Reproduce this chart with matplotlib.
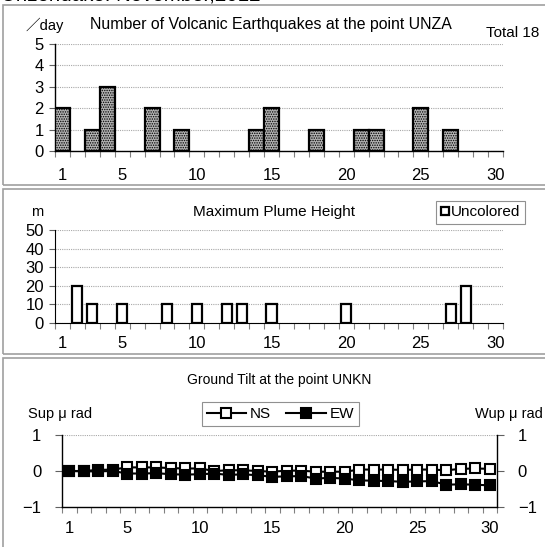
import numpy as np
import matplotlib
matplotlib.use("Agg")
import matplotlib.pyplot as plt
from matplotlib.patches import Rectangle
from matplotlib.lines import Line2D

# ---------------- data ----------------
days = list(range(1, 31))
quake_counts = [2, 0, 1, 3, 0, 0, 2, 0, 1, 0, 0, 0, 0, 1, 2, 0, 0, 1, 0, 0,
                1, 1, 0, 0, 2, 0, 1, 0, 0, 0]
plume_heights = [0, 20, 10, 0, 10, 0, 0, 10, 0, 10, 0, 10, 10, 0, 10, 0, 0, 0, 0, 10,
                 0, 0, 0, 0, 0, 0, 10, 20, 0, 0]
tilt_ns = [0.00, 0.00, 0.03, 0.04, 0.10, 0.10, 0.10, 0.08, 0.07, 0.07,
           0.00, 0.02, 0.02, 0.00, -0.02, 0.01, 0.01, -0.02, -0.02, -0.02,
           0.04, 0.04, 0.04, 0.03, 0.04, 0.04, 0.02, 0.06, 0.07, 0.06]
tilt_ew = [0.00, -0.01, -0.01, 0.00, -0.07, -0.07, -0.06, -0.09, -0.10, -0.09,
           -0.07, -0.11, -0.09, -0.12, -0.16, -0.15, -0.14, -0.21, -0.19, -0.21,
           -0.26, -0.27, -0.28, -0.30, -0.29, -0.28, -0.38, -0.37, -0.38, -0.40]
xtick_labels = [1, 5, 10, 15, 20, 25, 30]
quake_yticks = [0, 1, 2, 3, 4, 5]
plume_yticks = [0, 10, 20, 30, 40, 50]
tilt_yticks = [-1, 0, 1]
total_quakes = 18

# ---------------- style ----------------
W, H = 545, 547
plt.rcParams['font.family'] = ['Liberation Sans', 'DejaVu Sans']
plt.rcParams['hatch.linewidth'] = 0.7
NARROW = ['Liberation Sans Narrow', 'Liberation Sans', 'DejaVu Sans']
GRID = dict(color='#a8a8a8', linestyle=(0, (1, 1)), linewidth=0.8)

fig = plt.figure(figsize=(W / 100, H / 100), dpi=100)


def fx(px):
    return px / W


def fy(py):
    return 1 - py / H


def add_axes(x0, x1, ytop, ybot):
    return fig.add_axes([fx(x0), fy(ybot), fx(x1) - fx(x0), fy(ytop) - fy(ybot)])


# panel frames
for (y0, y1) in [(5, 185), (189, 354), (358, 560)]:
    fig.add_artist(Rectangle((fx(3), fy(y1)), fx(600), fy(y0) - fy(y1),
                             transform=fig.transFigure, fill=False,
                             edgecolor='#a0a0a0', linewidth=1.2))

fig.text(fx(1), fy(0.3), 'Unzendake: November,2012', fontsize=14.8,
         va='baseline', ha='left')


def style_category_xaxis(ax, pad):
    ax.set_xlim(0.5, 30.5)
    ax.set_xticks(xtick_labels)
    ax.set_xticklabels([str(v) for v in xtick_labels])
    ax.set_xticks(np.arange(0.5, 31, 1), minor=True)
    ax.tick_params(axis='x', which='major', length=0, pad=pad, labelsize=12,
                   labelfontfamily=NARROW)
    ax.tick_params(axis='x', which='minor', length=4, width=0.8,
                   color='#808080', direction='out')


days_arr = np.array(days)

# ---------------- panel 1: earthquakes ----------------
ax1 = add_axes(55, 503, 44, 151)
q = np.array(quake_counts)
ax1.bar(days_arr[q > 0], q[q > 0], width=1.0, facecolor='#b4b4b4',
        edgecolor='black', linewidth=1.6, hatch='.......', zorder=3)
ax1.set_ylim(0, 5)
ax1.set_yticks(quake_yticks)
ax1.tick_params(axis='y', length=4, width=0.8, color='#606060', pad=4,
                labelsize=12, labelfontfamily=NARROW)
style_category_xaxis(ax1, 12)
ax1.yaxis.grid(True, **GRID)
ax1.set_axisbelow(True)
for s in ['top', 'right']:
    ax1.spines[s].set_visible(False)
ax1.spines['left'].set_linewidth(1.0)
ax1.spines['bottom'].set_linewidth(1.0)
fig.text(fx(26), fy(25), '／day', fontsize=10.5, va='center', ha='left',
         family=['Liberation Sans', 'Noto Sans CJK JP'])
fig.text(fx(271), fy(25), 'Number of Volcanic Earthquakes at the point UNZA',
         fontsize=11.4, va='center', ha='center')
fig.text(fx(486), fy(33), f'Total {total_quakes}', fontsize=11,
         va='center', ha='left')

# ---------------- panel 2: plume ----------------
ax2 = add_axes(55, 503, 230, 323)
p = np.array(plume_heights)
ax2.bar(days_arr[p > 0], p[p > 0], width=0.68, facecolor='white',
        edgecolor='black', linewidth=1.6, zorder=3)
ax2.set_ylim(0, 50)
ax2.set_yticks(plume_yticks)
ax2.tick_params(axis='y', length=4, width=0.8, color='#606060', pad=4,
                labelsize=12, labelfontfamily=NARROW)
style_category_xaxis(ax2, 9)
ax2.yaxis.grid(True, **GRID)
ax2.set_axisbelow(True)
for s in ['top', 'right']:
    ax2.spines[s].set_visible(False)
fig.text(fx(37), fy(212), 'm', fontsize=10.5, va='center', ha='center')
fig.text(fx(274), fy(212), 'Maximum Plume Height', fontsize=11,
         va='center', ha='center')
h_unc = Line2D([], [], marker='s', markersize=6, markerfacecolor='white',
               markeredgecolor='black', markeredgewidth=1.6, linestyle='none')
leg2 = ax2.legend([h_unc], ['Uncolored'], loc='center',
                  bbox_to_anchor=(fx(480.5), fy(212.5)),
                  bbox_transform=fig.transFigure, fancybox=False,
                  handlelength=0.6, handletextpad=0.1, borderpad=0.3,
                  fontsize=11, framealpha=1, borderaxespad=0)
leg2.get_frame().set_edgecolor('#909090')
leg2.get_frame().set_linewidth(0.8)

# ---------------- panel 3: tilt ----------------
ax3 = add_axes(62, 497, 435, 507)
ax3.plot(days, tilt_ns, color='black', linewidth=1.5, marker='s',
         markersize=7.5, markerfacecolor='white', markeredgecolor='black',
         markeredgewidth=1.5, zorder=3, label='NS')
ax3.plot(days, tilt_ew, color='black', linewidth=1.5, marker='s',
         markersize=7.5, markerfacecolor='black', markeredgecolor='black',
         markeredgewidth=1.5, zorder=4, label='EW')
ax3.set_ylim(-1, 1)
ax3.set_yticks(tilt_yticks)
ax3.set_yticklabels(['−1', '0', '1'])
ax3.tick_params(axis='y', length=5, width=0.8, color='#606060', pad=10,
                labelsize=12, labelfontfamily=NARROW, right=True,
                labelright=True)
style_category_xaxis(ax3, 10)
ax3.axhline(1, zorder=1, **GRID)
ax3.spines['top'].set_visible(False)
for s in ['left', 'right', 'bottom']:
    ax3.spines[s].set_linewidth(1.0)
fig.text(fx(279), fy(380), 'Ground Tilt at the point UNKN', fontsize=10,
         va='center', ha='center', family=NARROW)
fig.text(fx(28), fy(414), 'Sup μ rad', fontsize=10.5, va='center', ha='left')
fig.text(fx(543), fy(414), 'Wup μ rad', fontsize=10.5, va='center', ha='right')
leg3 = ax3.legend(loc='center', bbox_to_anchor=(fx(280.5), fy(414)),
                  bbox_transform=fig.transFigure, ncol=2, fancybox=False,
                  handlelength=2.6, handletextpad=0.25, columnspacing=1.0,
                  borderpad=0.3, framealpha=1, borderaxespad=0,
                  prop={'family': NARROW, 'size': 11})
leg3.get_frame().set_edgecolor('#909090')
leg3.get_frame().set_linewidth(0.8)

fig.savefig('out.png', dpi=100)
